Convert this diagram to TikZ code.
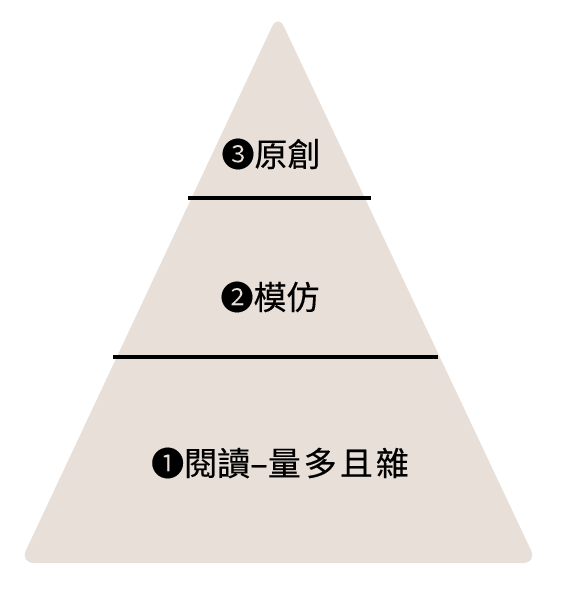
\documentclass[tikz,border=0pt]{standalone}
\usepackage{fontspec}
\newfontfamily\cjk[FakeBold=0.3]{Noto Sans CJK TC}
\definecolor{pyr}{HTML}{E7DFD8}
\tikzset{
  lab/.style={font=\cjk\fontsize{33}{36}\selectfont, text=black, inner sep=0pt, anchor=center},
  divider/.style={line width=4pt, black}
}
\begin{document}
\begin{tikzpicture}[x=1pt,y=-1pt]
\useasboundingbox (0,0) rectangle (561,589);
\coordinate (apex) at (278,14);
\coordinate (bl) at (20,563);
\coordinate (br) at (537,563);
\coordinate (bm) at (278,563);
\fill[pyr, rounded corners=14pt] (bm) -- (br) -- (apex) -- (bl) -- cycle;
\coordinate (l1a) at (188,198);
\coordinate (l1b) at (371,198);
\coordinate (l2a) at (113,357);
\coordinate (l2b) at (438,357);
\draw[divider] (l1a) -- (l1b);
\draw[divider] (l2a) -- (l2b);
\node[lab] (t3) at (271,154) {❸原創};
\node[lab] (t2) at (270,297) {❷模仿};
\node[lab] (t1) at (280,463) {❶閱讀–量\kern3pt 多\kern3pt 且\kern3pt 雜};
\end{tikzpicture}
\end{document}
